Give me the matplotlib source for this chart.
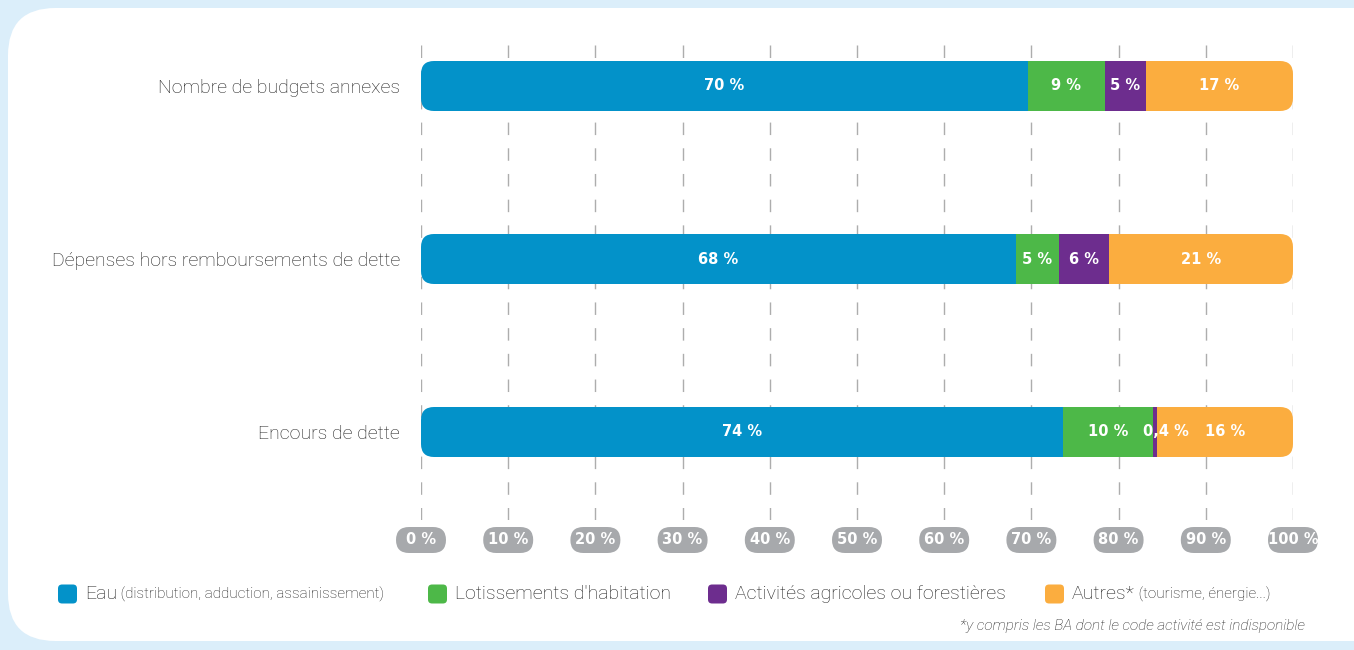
import matplotlib
matplotlib.use("Agg")
import matplotlib.pyplot as plt
from matplotlib.patches import FancyBboxPatch

categories = ["Nombre de budgets annexes",
              "Dépenses hors remboursements de dette",
              "Encours de dette"]
series_names = ["Eau", "Lotissements d'habitation",
                "Activités agricoles ou forestières", "Autres*"]
series_sub = [" (distribution, adduction, assainissement)", "", "", " (tourisme, énergie...)"]
eau = [69.6, 68.2, 73.6]
lotissements = [8.8, 5.0, 10.3]
agricoles = [4.7, 5.7, 0.5]
autres = [16.9, 21.1, 15.6]
label_eau = ["70 %", "68 %", "74 %"]
label_lot = ["9 %", "5 %", "10 %"]
label_agr = ["5 %", "6 %", "0,4 %"]
label_aut = ["17 %", "21 %", "16 %"]
xticks = [0, 10, 20, 30, 40, 50, 60, 70, 80, 90, 100]
xtick_labels = ["0 %", "10 %", "20 %", "30 %", "40 %", "50 %", "60 %", "70 %", "80 %", "90 %", "100 %"]
footnote = "*y compris les BA dont le code activité est indisponible"

colors = ["#0392c9", "#4db848", "#6d2d8e", "#fbad3f"]
W, H = 1354, 650
DPI = 100
LIGHT = dict(family="Roboto", weight="light")
TXT = "#1e1e1e"

fig = plt.figure(figsize=(W / DPI, H / DPI), dpi=DPI)
fig.patch.set_facecolor("#dbeefa")

# white rounded panel
panel = FancyBboxPatch((8 / W, 9 / H), (W + 40) / W, 633 / H,
                       boxstyle="round,pad=0,rounding_size=0.035",
                       transform=fig.transFigure, facecolor="white",
                       edgecolor="none", zorder=-5, mutation_aspect=W / H)
fig.patches.append(panel)

ax_left, ax_right = 421, 1293
ax_top, ax_bot = 35, 520
ax = fig.add_axes([ax_left / W, (H - ax_bot) / H, (ax_right - ax_left) / W, (ax_bot - ax_top) / H])
ax.set_zorder(2)
ax.set_facecolor("none")
for s in ax.spines.values():
    s.set_visible(False)

ys = [0, 1, 2]
spacing = 173.0
ax.set_xlim(0, 100)
ax.set_ylim(2 + (ax_bot - 432) / spacing, -(86 - ax_top) / spacing)
bar_h = 50 / spacing

# gridlines
for x in xticks:
    ax.axvline(x, color="#adadad", lw=1, dashes=(9, 9.5), zorder=1)

series = [eau, lotissements, agricoles, autres]
labels = [label_eau, label_lot, label_agr, label_aut]

x_per_px = 100 / (ax_right - ax_left)
y_per_px = 1 / spacing
radius_px = 13

for i, y in enumerate(ys):
    total = sum(s[i] for s in series)
    clip = FancyBboxPatch((0, y - bar_h / 2), total, bar_h,
                          boxstyle=f"round,pad=0,rounding_size={radius_px * x_per_px}",
                          mutation_aspect=y_per_px / x_per_px,
                          transform=ax.transData, facecolor="none", edgecolor="none")
    ax.add_patch(clip)
    left = 0
    for k, s in enumerate(series):
        b = ax.barh(y, s[i], left=left, height=bar_h, color=colors[k], zorder=2, linewidth=0)
        for r in b:
            r.set_clip_path(clip)
        cx = left + s[i] / 2
        if k == 2 and s[i] < 2:
            cx = left + s[i] / 2 + 1.3
        ax.text(cx, y, labels[k][i], ha="center", va="center", color="white",
                fontsize=10.5, fontweight="bold", family="DejaVu Sans", zorder=3)
        left += s[i]

ax.set_yticks(ys)
ax.set_yticklabels(categories, fontsize=14, color=TXT, **LIGHT)
ax.tick_params(axis="y", length=0, pad=15)
ax.set_xticks([])

# tick pills (fixed size, positioned through the axis transform)
fig.canvas.draw()
renderer = fig.canvas.get_renderer()
to_fig = fig.transFigure.inverted()
pill_w, pill_h = 50, 26
pill_y_px = H - 540  # display y of pill centre
for x, lab in zip(xticks, xtick_labels):
    px, _ = ax.transData.transform((x, 0))
    fx0, fy0 = to_fig.transform((px - pill_w / 2, pill_y_px - pill_h / 2))
    fx1, fy1 = to_fig.transform((px + pill_w / 2, pill_y_px + pill_h / 2))
    pill = FancyBboxPatch((fx0, fy0), fx1 - fx0, fy1 - fy0,
                          boxstyle=f"round,pad=0,rounding_size={(fx1 - fx0) * (pill_h / 2) / pill_w}",
                          transform=fig.transFigure, facecolor="#a7a9ac", edgecolor="none",
                          mutation_aspect=W / H, zorder=3)
    fig.patches.append(pill)
    fig.text((fx0 + fx1) / 2, (fy0 + fy1) / 2, lab, ha="center", va="center",
             color="white", fontsize=10.5, fontweight="bold", family="DejaVu Sans", zorder=4)

# legend
leg_x = [58, 428, 708, 1045]
leg_y = 594
for k in range(4):
    sq = FancyBboxPatch(((leg_x[k]) / W, (H - leg_y - 9.5) / H), 19 / W, 19 / H,
                        boxstyle="round,pad=0,rounding_size=0.003",
                        transform=fig.transFigure, facecolor=colors[k], edgecolor="none",
                        mutation_aspect=W / H)
    fig.patches.append(sq)
    t = fig.text((leg_x[k] + 27) / W, (H - leg_y) / H, series_names[k], ha="left", va="center",
                 fontsize=14, color=TXT, **LIGHT)
    if series_sub[k]:
        bb = t.get_window_extent(renderer)
        fig.text(bb.x1 / W, (H - leg_y) / H, series_sub[k], ha="left", va="center",
                 fontsize=11, color=TXT, **LIGHT)

fig.text(1305 / W, (H - 626) / H, footnote, ha="right", va="center", fontsize=11,
         color=TXT, style="italic", **LIGHT)

fig.savefig("out.png", dpi=DPI, facecolor=fig.get_facecolor())
